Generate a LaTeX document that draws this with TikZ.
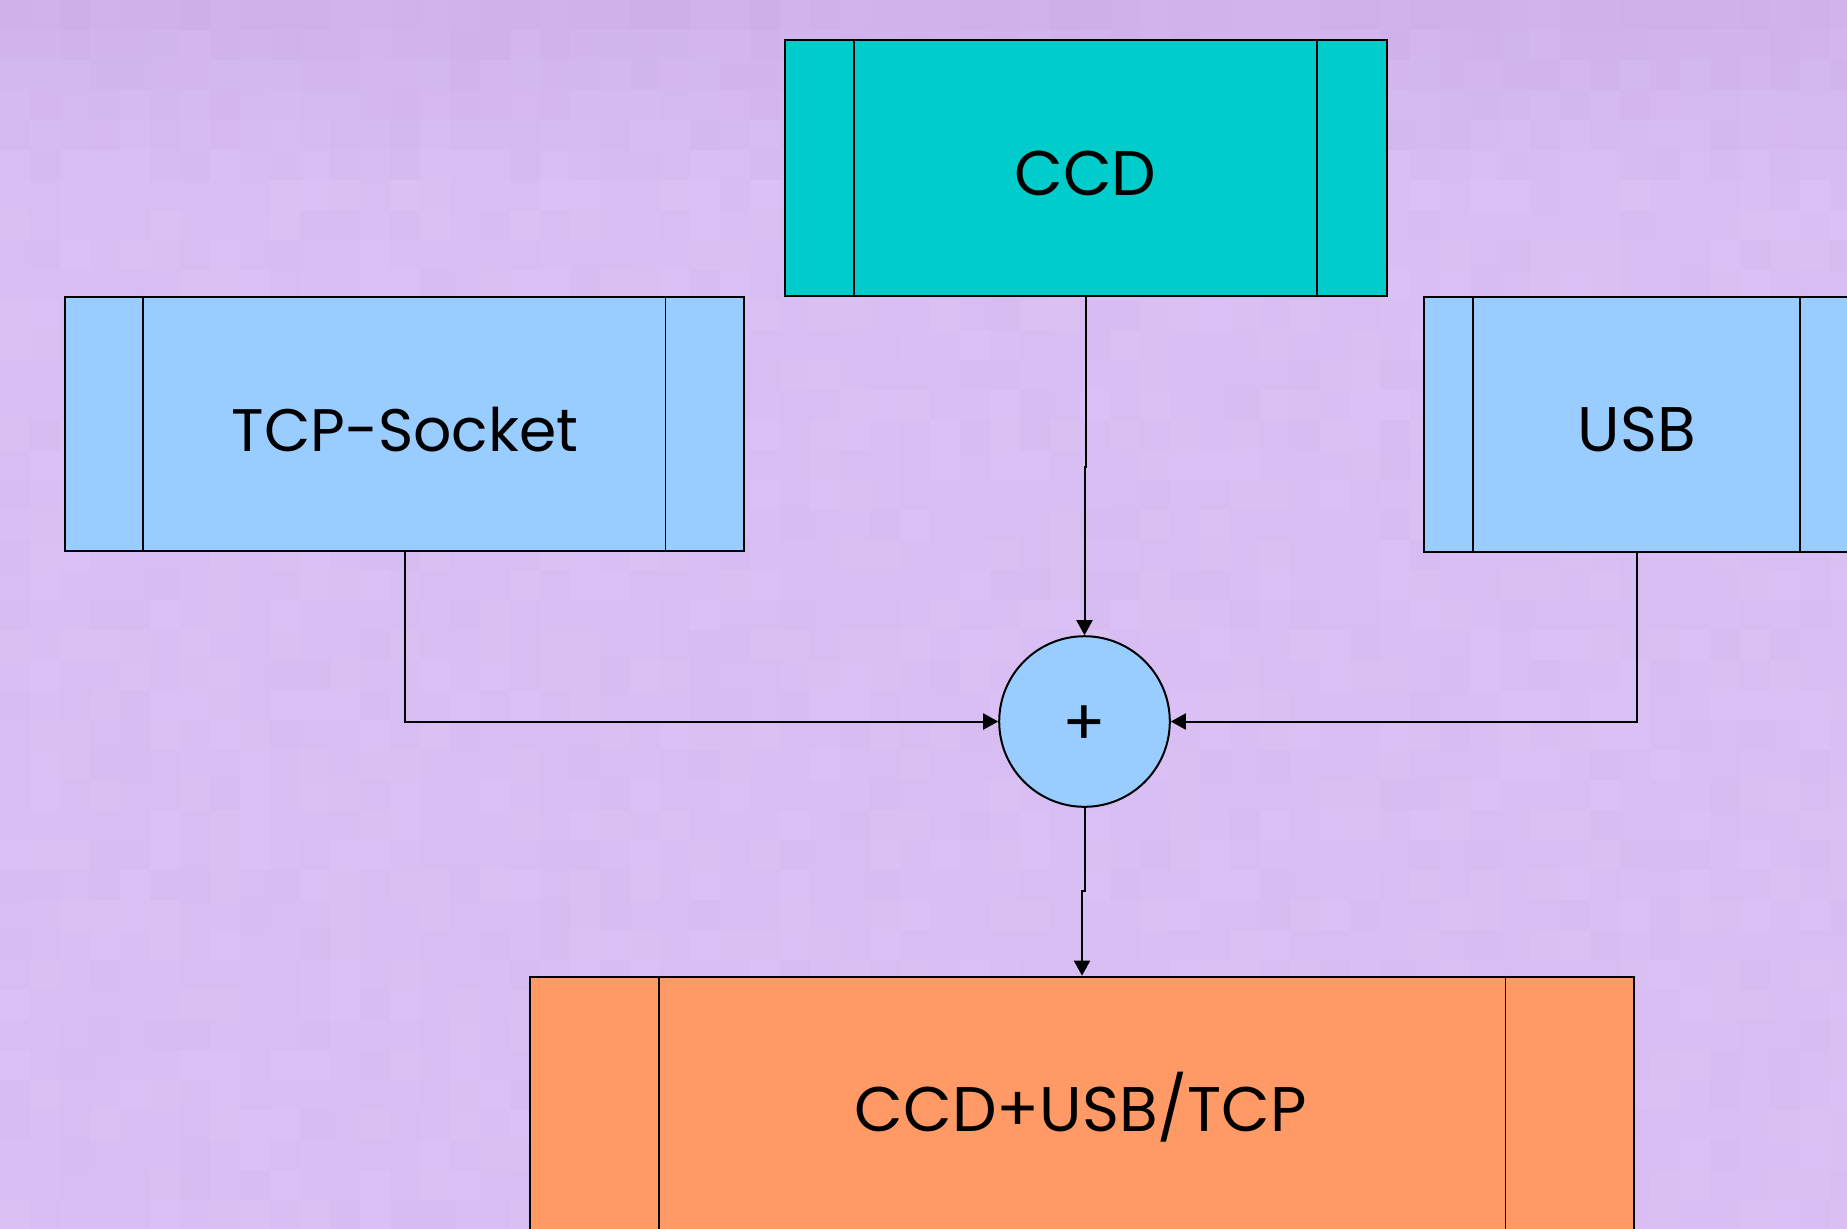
\documentclass[tikz,border=0pt]{standalone}
\usepackage{fontspec}
\setmainfont{Poppins}
\usetikzlibrary{arrows.meta}

\definecolor{bgdark}{HTML}{C6A9E2}
\definecolor{bglight}{HTML}{DFC5F8}
\definecolor{tealbox}{HTML}{00CCCC}
\definecolor{bluebox}{HTML}{99CCFF}
\definecolor{orangebox}{HTML}{FF9966}

\tikzset{
  procbox/.style={draw=black, line width=1pt, rectangle, inner sep=0pt},
  barline/.style={draw=black, line width=0.9pt},
  boxtext/.style={font=\fontsize{31.5}{36}\selectfont, inner sep=0pt, anchor=base, text=black},
  sumnode/.style={draw=black, line width=1pt, circle, fill=bluebox, inner sep=0pt, minimum size=85.3pt},
  conn/.style={draw=black, line width=1pt, -{Triangle[length=7.5pt,width=8pt]}},
}

\begin{document}
\begin{tikzpicture}[x=0.5pt,y=-0.5pt]
\useasboundingbox (0,0) rectangle (1847,1228);

% mottled purple backdrop, darker toward the top
\fill[bglight] (0,0) rectangle (1847,1228);
\pgfmathsetseed{11}
\foreach \j in {0,...,40}{
  \foreach \i in {0,...,61}{
    \pgfmathtruncatemacro\p{random(18,32)+max(0,6-\j)*7}
    \fill[bgdark!\p!bglight] (\i*30,\j*30) rectangle (\i*30+31,\j*30+31);
  }
}

% input blocks
\node[procbox, fill=tealbox, minimum width=301pt, minimum height=127.85pt] (ccd) at (1085.5,167.9) {};
\draw[barline] ([xshift=35.25pt]ccd.north west) -- ([xshift=35.25pt]ccd.south west);
\draw[barline] ([xshift=-35.25pt]ccd.north east) -- ([xshift=-35.25pt]ccd.south east);
\node[boxtext] (ccdtext) at (1085.3,195) {CCD};

\node[procbox, fill=bluebox, minimum width=339.85pt, minimum height=127.2pt] (tcp) at (404.6,424.1) {};
\draw[barline] ([xshift=39.5pt]tcp.north west) -- ([xshift=39.5pt]tcp.south west);
\draw[barline] ([xshift=-40pt]tcp.north east) -- ([xshift=-40pt]tcp.south east);
\node[boxtext, font=\fontsize{30}{36}\selectfont] (tcptext) at (405,451) {TCP-Socket};

\node[procbox, fill=bluebox, minimum width=212.5pt, minimum height=127.5pt] (usb) at (1636.5,424.2) {};
\draw[barline] ([xshift=25pt]usb.north west) -- ([xshift=25pt]usb.south west);
\draw[barline] ([xshift=-25pt]usb.north east) -- ([xshift=-25pt]usb.south east);
\node[boxtext] (usbtext) at (1636.7,451) {USB};

% summing junction
\node[sumnode] (sum) at (1084.5,721.5) {};
\node[font=\fontsize{32}{36}\selectfont, inner sep=0pt] (plus) at (1084.3,725.7) {+};

% output block
\node[procbox, fill=orangebox, minimum width=552pt, minimum height=127.75pt] (out) at (1082,1104.4) {};
\draw[barline] ([xshift=64.8pt]out.north west) -- ([xshift=64.8pt]out.south west);
\draw[barline] ([xshift=-64.8pt]out.north east) -- ([xshift=-64.8pt]out.south east);
\node[boxtext] (outtext) at (1081,1131) {CCD+USB/TCP};

% connectors
\coordinate (jogA) at (1085,467);
\coordinate (jogB) at (1084,891);
\draw[conn] (ccd.south) -- (ccd.south |- jogA) -- (sum.north |- jogA) -- (sum.north);
\draw[conn] (tcp.south) |- (sum.west);
\draw[conn] (usb.south) |- (sum.east);
\draw[conn] (sum.south) -- (sum.south |- jogB) -- (out.north |- jogB) -- (out.north);
\end{tikzpicture}
\end{document}
